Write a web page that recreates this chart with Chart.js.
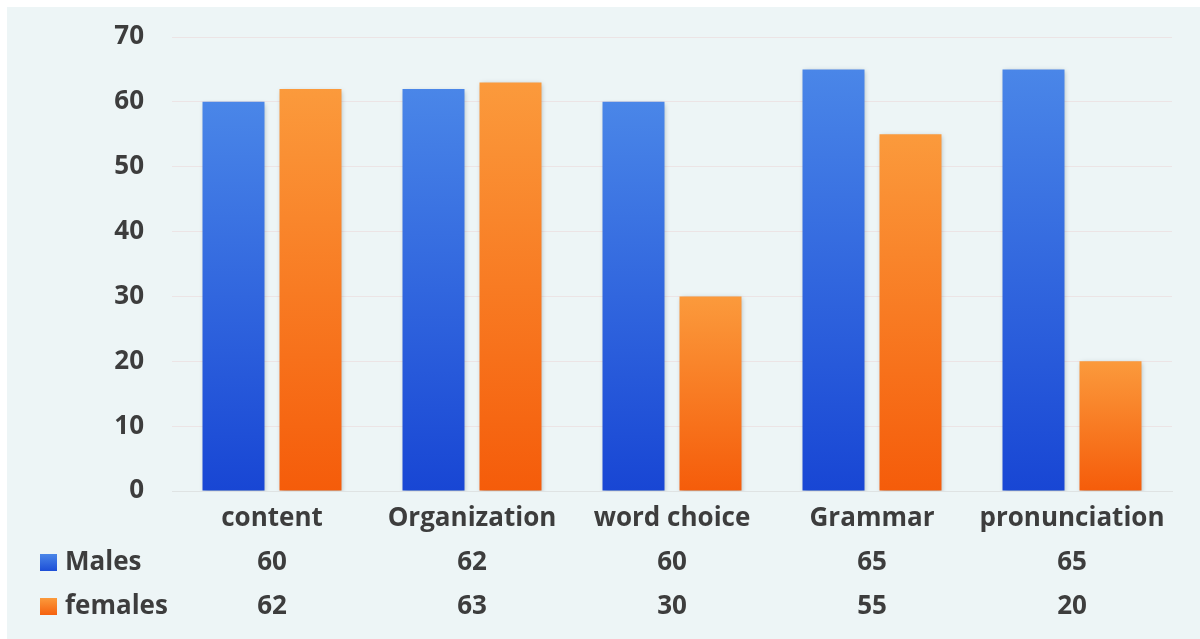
<!DOCTYPE html>
<html>
<head>
<meta charset="utf-8">
<script src="https://cdn.jsdelivr.net/npm/chart.js@4.4.1/dist/chart.umd.min.js"></script>
<style>
  html, body { margin: 0; padding: 0; background: #ffffff; }
  #wrap { width: 1200px; height: 639px; }
</style>
</head>
<body>
<div id="wrap"><canvas id="scoreChart"></canvas></div>
<script>
// Scores by category
var categories = ['content', 'Organization', 'word choice', 'Grammar', 'pronunciation'];
var males = [60, 62, 60, 65, 65];
var females = [62, 63, 30, 55, 20];
var yTicks = [0, 10, 20, 30, 40, 50, 60, 70];

var textColor = '#3d3d3d';
var fontFamily = "'Open Sans', 'Noto Sans', sans-serif";

// Vertical gradient running over each bar's own height
function barGradient(top, bottom) {
   return function (context) {
       var chart = context.chart;
       if (!chart.chartArea || context.raw == null) return top;
       var y = chart.scales.y;
       var y0 = y.getPixelForValue(0);
       var y1 = y.getPixelForValue(context.raw);
       var g = chart.ctx.createLinearGradient(0, y1, 0, y0);
       g.addColorStop(0, top);
       g.addColorStop(1, bottom);
       return g;
   };
}

// Light panel behind everything
var panelBg = {
   id: 'panelBg',
   beforeDraw: function (chart) {
       var ctx = chart.ctx;
       ctx.save();
       ctx.fillStyle = '#ffffff';
       ctx.fillRect(0, 0, chart.width, chart.height);
       ctx.fillStyle = '#edf5f6';
       ctx.fillRect(7, 7, chart.width - 7, chart.height - 7);
       ctx.restore();
   }
};

// Soft drop shadow under the bars
var barShadow = {
   id: 'barShadow',
   beforeDatasetsDraw: function (chart) {
       var ctx = chart.ctx;
       ctx.save();
       ctx.shadowColor = 'rgba(40, 60, 70, 0.35)';
       ctx.shadowBlur = 5;
       ctx.shadowOffsetX = 1;
       ctx.shadowOffsetY = 2;
   },
   afterDatasetsDraw: function (chart) {
       chart.ctx.restore();
   }
};

// Data table with legend keys under the category axis
var dataTable = {
   id: 'dataTable',
   afterDraw: function (chart) {
       var ctx = chart.ctx;
       var x = chart.scales.x;
       var rows = [
           { label: 'Males', values: males, top: '#4a86e8', bottom: '#1a4bd6', y: 563 },
           { label: 'females', values: females, top: '#fb9a3c', bottom: '#f55e0c', y: 607 }
       ];
       ctx.save();
       ctx.font = 'bold 26px ' + fontFamily;
       ctx.fillStyle = textColor;
       ctx.textBaseline = 'middle';
       rows.forEach(function (row) {
           var g = ctx.createLinearGradient(0, row.y - 9, 0, row.y + 9);
           g.addColorStop(0, row.top);
           g.addColorStop(1, row.bottom);
           ctx.fillStyle = g;
           ctx.fillRect(40, row.y - 9, 17, 17);
           ctx.fillStyle = textColor;
           ctx.textAlign = 'left';
           ctx.fillText(row.label, 65, row.y);
           ctx.textAlign = 'center';
           row.values.forEach(function (v, i) {
               ctx.fillText(String(v), x.getPixelForValue(i), row.y);
           });
       });
       ctx.restore();
   }
};

window.onload = function () {
   var ctx = document.getElementById('scoreChart').getContext('2d');
   new Chart(ctx, {
       type: 'bar',
       data: {
           labels: categories,
           datasets: [{
               label: 'Males',
               data: males,
               backgroundColor: barGradient('#4a86e8', '#1846d4'),
               borderWidth: 0
           }, {
               label: 'females',
               data: females,
               backgroundColor: barGradient('#fb9a3c', '#f55c0a'),
               borderWidth: 0
           }]
       },
       options: {
           responsive: true,
           maintainAspectRatio: false,
           animation: false,
           categoryPercentage: 0.77,
           barPercentage: 0.805,
           layout: { padding: { top: 37, right: 28, left: 0, bottom: 0 } },
           plugins: {
               legend: { display: false },
               tooltip: { enabled: false }
           },
           scales: {
               x: {
                   grid: { display: false },
                   border: { color: '#dfe3e3', width: 1 },
                   ticks: {
                       color: textColor,
                       padding: 4,
                       font: { family: fontFamily, size: 26, weight: 'bold' }
                   },
                   afterFit: function (scale) {
                       scale.height = 148;
                       scale.paddingLeft = 0;
                       scale.paddingRight = 0;
                   }
               },
               y: {
                   min: 0,
                   max: 70,
                   afterBuildTicks: function (scale) {
                       scale.ticks = yTicks.map(function (v) { return { value: v }; });
                   },
                   grid: { color: '#ece4e5', drawTicks: false },
                   border: { display: false },
                   ticks: {
                       color: textColor,
                       padding: 28,
                       font: { family: fontFamily, size: 26, weight: 'bold' }
                   },
                   afterFit: function (scale) {
                       scale.width = 172;
                       scale.paddingTop = 0;
                       scale.paddingBottom = 0;
                   }
               }
           }
       },
       plugins: [panelBg, barShadow, dataTable]
   });
};
</script>
</body>
</html>
